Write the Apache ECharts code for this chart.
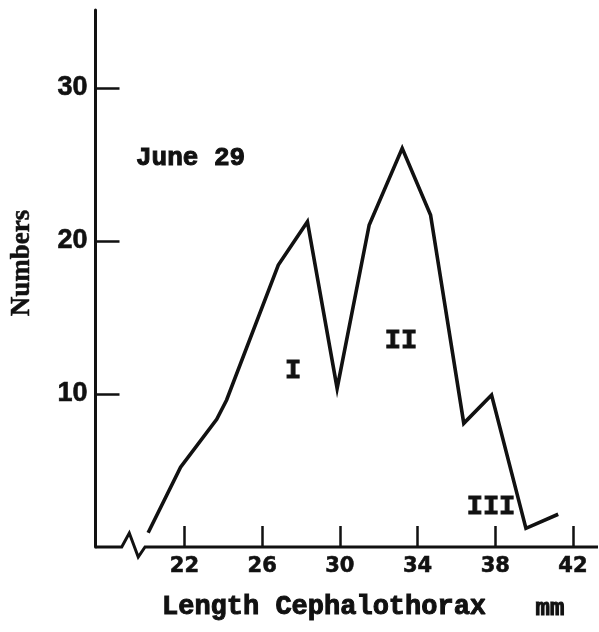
<!DOCTYPE html>
<html><head><meta charset="utf-8">
<script src="https://cdn.jsdelivr.net/npm/echarts@6/dist/echarts.min.js"></script>
<style>html,body{margin:0;padding:0;background:#fff}#c{width:599px;height:632px}</style>
</head><body><div id="c"></div>
<script>
// Data
const lengthMM = [20.13, 21.80, 23.66, 24.17, 26.83, 28.33, 29.86, 31.51, 33.21, 34.67, 36.38, 37.81, 39.58, 41.24];
const numbers  = [0.93, 5.21, 8.35, 9.61, 18.43, 21.26, 10.37, 21.05, 26.06, 21.70, 8.08, 9.93, 1.22, 2.14];
const xTicks = [22, 26, 30, 34, 38, 42];
const yTicks = [10, 20, 30];
const dateLabel = 'June 29';
const groupLabels = ['I', 'II', 'III'];
const xTitle = 'Length Cephalothorax';
const xUnit = 'mm';
const yTitle = 'Numbers';

const ink = '#111';
const chart = echarts.init(document.getElementById('c'), null, {renderer: 'canvas'});

const option = {
  backgroundColor: '#fff',
  animation: false,
  grid: {left: 95.5, right: 1, top: 10, bottom: 85},
  xAxis: {
    type: 'value', min: 17.42, max: 43.29,
    axisLine: {show: false},
    splitLine: {show: false},
    axisTick: {show: true, inside: true, length: 21, customValues: xTicks,
      lineStyle: {color: ink, width: 2.5}},
    axisLabel: {customValues: xTicks, color: ink, fontFamily: 'DejaVu Sans', fontWeight: 'bold',
      fontSize: 21, margin: 9, textBorderColor: ink, textBorderWidth: 0.6}
  },
  yAxis: {
    type: 'value', min: 0, max: 35.1,
    axisLine: {show: true, lineStyle: {color: ink, width: 3}},
    splitLine: {show: false},
    axisTick: {show: true, inside: true, length: 24, customValues: yTicks,
      lineStyle: {color: ink, width: 2.5}},
    axisLabel: {customValues: yTicks, color: ink, fontFamily: 'Liberation Sans', fontWeight: 'bold',
      fontSize: 27, margin: 8, textBorderColor: ink, textBorderWidth: 0.6}
  },
  series: [{
    type: 'line',
    data: lengthMM.map((x, i) => [x, numbers[i]]),
    showSymbol: false,
    symbol: 'none',
    lineStyle: {color: ink, width: 3.6, join: 'miter'},
    z: 5
  }]
};
chart.setOption(option);

// Broken x axis with zigzag, placed through the axis scale
function px(x, y) { return chart.convertToPixel({gridIndex: 0}, [x, y]); }
const x0 = px(17.42, 0), xa = px(18.77, 0), xb = px(19.16, 0), xc = px(19.62, 0), xd = px(19.97, 0), x1 = px(43.29, 0);
const mono = 'bold 27px "Liberation Mono", monospace';
const bold = {fill: ink, stroke: ink, lineWidth: 1};
chart.setOption({
  graphic: [
    {type: 'polyline', z: 10, shape: {points: [
      [x0[0], x0[1]], [xa[0], xa[1]], [xb[0], xb[1] - 14], [xc[0], xc[1] + 10], [xd[0], xd[1]], [x1[0], x1[1]]
    ]}, style: {stroke: ink, lineWidth: 3, fill: null, lineJoin: 'miter'}},
    {type: 'text', x: 136, y: 158, style: Object.assign({text: dateLabel, font: 'bold 26px "Liberation Mono", monospace',
      textAlign: 'left', textVerticalAlign: 'middle'}, bold)},
    {type: 'text', x: 293, y: 371, style: Object.assign({text: groupLabels[0], font: mono,
      textAlign: 'center', textVerticalAlign: 'middle'}, bold)},
    {type: 'text', x: 401, y: 341, style: Object.assign({text: groupLabels[1], font: mono,
      textAlign: 'center', textVerticalAlign: 'middle'}, bold)},
    {type: 'text', x: 491, y: 507, style: Object.assign({text: groupLabels[2], font: mono,
      textAlign: 'center', textVerticalAlign: 'middle'}, bold)},
    {type: 'text', x: 162, y: 607, style: Object.assign({text: xTitle, font: mono,
      textAlign: 'left', textVerticalAlign: 'middle'}, bold)},
    {type: 'text', x: 550, y: 609, style: Object.assign({text: xUnit, font: 'bold 24px "Liberation Mono", monospace',
      textAlign: 'center', textVerticalAlign: 'middle'}, bold)},
    {type: 'text', x: 22, y: 263, rotation: Math.PI / 2, style: Object.assign({text: yTitle,
      font: 'bold 27px "Liberation Serif", serif', textAlign: 'center', textVerticalAlign: 'middle'}, {fill: ink, stroke: ink, lineWidth: 0.5})}
  ]
});
</script>
</body></html>
